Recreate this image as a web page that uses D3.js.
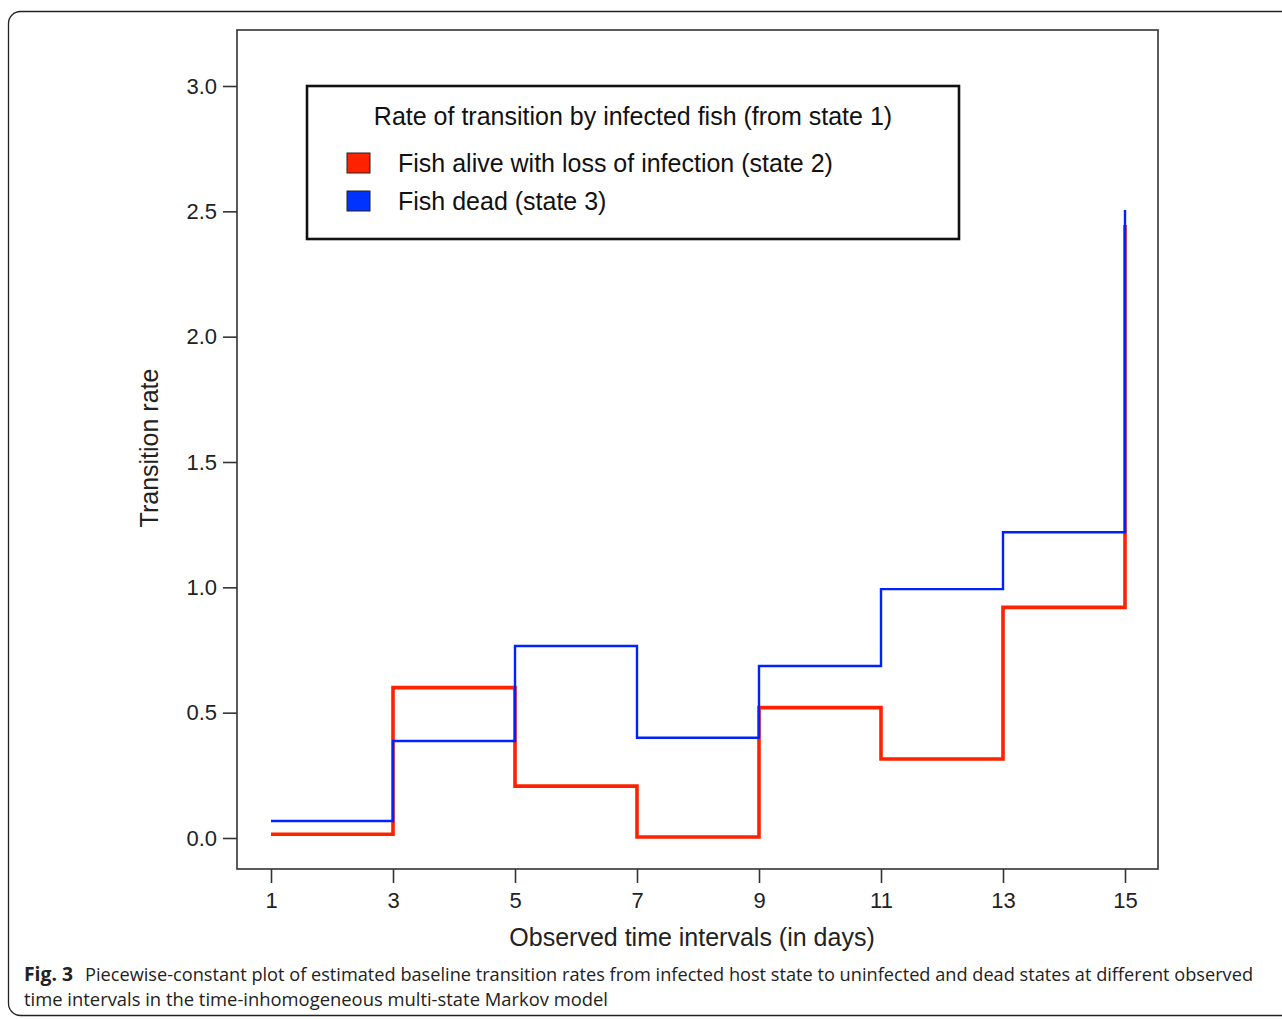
<!DOCTYPE html>
<html>
<head>
<meta charset="utf-8">
<script src="https://cdn.jsdelivr.net/npm/d3@7"></script>
<style>
  body { margin: 0; background: #fff; }
  svg { display: block; }
</style>
</head>
<body>
<svg width="1282" height="1019"></svg>
<script>
// interval start points (days), last point is the end of the final interval
const days = [1, 3, 5, 7, 9, 11, 13, 15];
// rate from state 1 to state 2 (alive, infection lost)
const rateLoss = [0.015, 0.60, 0.207, 0.004, 0.52, 0.315, 0.92, 2.445];
// rate from state 1 to state 3 (dead)
const rateDead = [0.068, 0.387, 0.766, 0.40, 0.686, 0.993, 1.22, 2.505];

const xTicks = [1, 3, 5, 7, 9, 11, 13, 15];
const yTicks = [0, 0.5, 1.0, 1.5, 2.0, 2.5, 3.0];

const legendTitle = "Rate of transition by infected fish (from state 1)";
const seriesNames = ["Fish alive with loss of infection (state 2)", "Fish dead (state 3)"];
const seriesColors = ["#ff2200", "#0022ff"];
const swatchColors = ["#ff2200", "#0033ff"];

const svg = d3.select("svg");
const font = "'Liberation Sans', Arial, sans-serif";

// outer frame of the figure
svg.append("rect")
    .attr("x", 8.5).attr("y", 11.5)
    .attr("width", 1320).attr("height", 1004)
    .attr("rx", 12)
    .attr("fill", "none")
    .attr("stroke", "#222")
    .attr("stroke-width", 1.3);

// plot box
const box = { left: 237, right: 1158, top: 30, bottom: 869 };

const x = d3.scaleLinear().domain([1, 15]).range([271, 1125]);
const y = d3.scaleLinear().domain([0, 3]).range([838, 86]);

svg.append("rect")
    .attr("x", box.left).attr("y", box.top)
    .attr("width", box.right - box.left).attr("height", box.bottom - box.top)
    .attr("fill", "none")
    .attr("stroke", "#333")
    .attr("stroke-width", 1.6);

// y axis
const yAxis = svg.append("g")
    .attr("transform", `translate(${box.left},0)`)
    .call(d3.axisLeft(y).tickValues(yTicks).tickFormat(d3.format(".1f")).tickSize(14).tickPadding(6));
yAxis.select(".domain").remove();

// x axis
const xAxis = svg.append("g")
    .attr("transform", `translate(0,${box.bottom})`)
    .call(d3.axisBottom(x).tickValues(xTicks).tickSize(14).tickPadding(9));
xAxis.select(".domain").remove();

svg.selectAll(".tick line").attr("stroke", "#333").attr("stroke-width", 1.6);
svg.selectAll(".tick text")
    .attr("fill", "#222")
    .style("font-family", font)
    .style("font-size", "22px");

// axis titles
svg.append("text")
    .attr("transform", "translate(158,448) rotate(-90)")
    .attr("text-anchor", "middle")
    .style("font-family", font)
    .style("font-size", "25px")
    .attr("fill", "#222")
    .text("Transition rate");

svg.append("text")
    .attr("x", 692).attr("y", 946)
    .attr("text-anchor", "middle")
    .style("font-family", font)
    .style("font-size", "25px")
    .attr("fill", "#222")
    .text("Observed time intervals (in days)");

// step lines (red first, blue over it)
const line = d3.line()
    .x(d => x(d[0]))
    .y(d => y(d[1]))
    .curve(d3.curveStepAfter);

svg.append("path")
    .datum(days.map((d, i) => [d, rateLoss[i]]))
    .attr("d", line)
    .attr("fill", "none")
    .attr("stroke", seriesColors[0])
    .attr("stroke-width", 3.6);

svg.append("path")
    .datum(days.map((d, i) => [d, rateDead[i]]))
    .attr("d", line)
    .attr("fill", "none")
    .attr("stroke", seriesColors[1])
    .attr("stroke-width", 2.4);

// legend
const legend = svg.append("g");
legend.append("rect")
    .attr("x", 307).attr("y", 86)
    .attr("width", 652).attr("height", 153)
    .attr("fill", "#fff")
    .attr("stroke", "#111")
    .attr("stroke-width", 2.6);

legend.append("text")
    .attr("x", 633).attr("y", 125)
    .attr("text-anchor", "middle")
    .style("font-family", font)
    .style("font-size", "25px")
    .attr("fill", "#111")
    .text(legendTitle);

seriesNames.forEach((name, i) => {
    const ly = 163 + i * 38;
    legend.append("rect")
        .attr("x", 347).attr("y", ly - 10)
        .attr("width", 23).attr("height", 20)
        .attr("fill", swatchColors[i])
        .attr("stroke", "#222")
        .attr("stroke-width", 1);
    legend.append("text")
        .attr("x", 398).attr("y", ly + 9)
        .style("font-family", font)
        .style("font-size", "25px")
        .attr("fill", "#111")
        .text(name);
});

// caption
const capFont = "'Open Sans', 'Noto Sans', sans-serif";
svg.append("text")
    .attr("x", 24).attr("y", 981)
    .style("font-family", capFont)
    .style("font-size", "19px")
    .style("font-weight", "bold")
    .attr("fill", "#222")
    .attr("textLength", 49)
    .attr("lengthAdjust", "spacingAndGlyphs")
    .text("Fig. 3");

svg.append("text")
    .attr("x", 85).attr("y", 981)
    .style("font-family", capFont)
    .style("font-size", "18px")
    .attr("fill", "#222")
    .attr("textLength", 1168)
    .attr("lengthAdjust", "spacingAndGlyphs")
    .text("Piecewise-constant plot of estimated baseline transition rates from infected host state to uninfected and dead states at different observed");

svg.append("text")
    .attr("x", 24).attr("y", 1006)
    .style("font-family", capFont)
    .style("font-size", "18px")
    .attr("fill", "#222")
    .attr("textLength", 584)
    .attr("lengthAdjust", "spacingAndGlyphs")
    .text("time intervals in the time-inhomogeneous multi-state Markov model");
</script>
</body>
</html>
